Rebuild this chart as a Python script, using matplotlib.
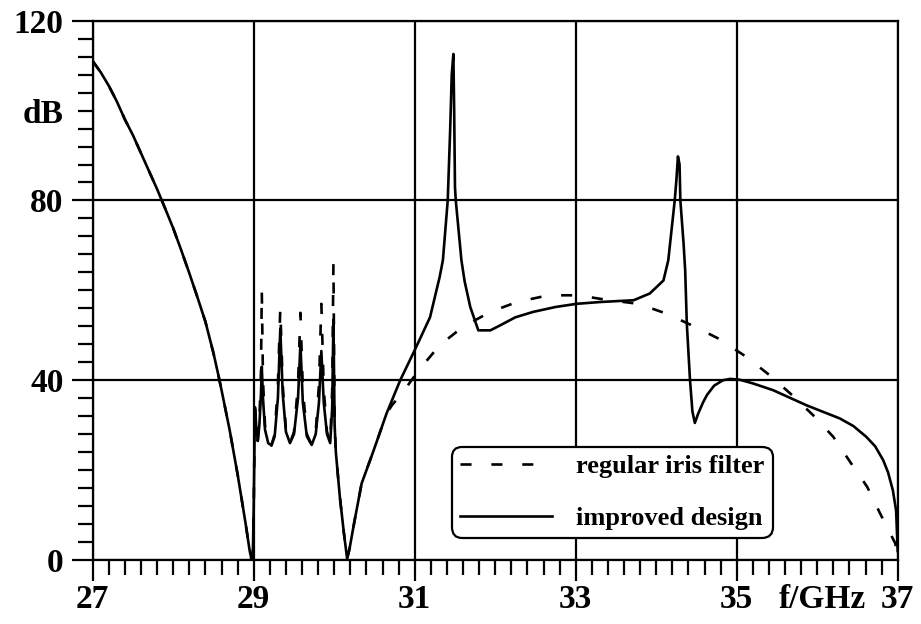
import matplotlib.pyplot as plt
from matplotlib.ticker import MultipleLocator

# attenuation curves: frequency in GHz, level in dB
f_regular = [27.0, 27.1, 27.2, 27.3, 27.4, 27.5, 27.6, 27.7, 27.8, 27.9,
             28.0, 28.1, 28.2, 28.3, 28.4, 28.5, 28.56, 28.6, 28.7, 28.8,
             28.9, 28.95, 28.97, 28.99, 29.0, 29.015,
             29.03, 29.05, 29.07, 29.09, 29.1, 29.115, 29.14, 29.18, 29.22, 29.26,
             29.3, 29.33, 29.36, 29.4, 29.45, 29.5, 29.55, 29.58, 29.61, 29.66,
             29.72, 29.77, 29.81, 29.84, 29.87, 29.91, 29.95, 29.975, 29.99, 30.005,
             30.02, 30.07, 30.12, 30.16, 30.19, 30.25, 30.34, 30.49, 30.65, 30.72,
             30.86, 31.04, 31.31, 31.6, 31.94, 32.27, 32.66, 33.03, 33.38, 33.78,
             34.13, 34.48, 34.77, 35.12, 35.41, 35.7, 35.95, 36.2, 36.41, 36.62,
             36.78, 36.97, 37.0]
db_regular = [111, 108.5, 105.5, 102, 98, 94.5, 90.5, 86.5, 82.5, 78.2,
              73.8, 68.9, 63.8, 58.5, 53, 46, 41.2, 37.8, 29, 19,
              8, 2, 0.3, 2, 12, 34,
              30, 26.5, 31, 42, 60, 40, 30, 26, 25.5, 28,
              39, 56, 39, 29, 26, 28.5, 39, 55, 38, 28,
              25.6, 28.5, 39, 57, 38, 28.5, 26, 38, 66, 30,
              24, 14, 6, 0.3, 2.5, 8.5, 17, 24.4, 32.6, 34.5,
              37.5, 42, 47.8, 51.9, 55.2, 57.4, 58.9, 58.9, 57.9, 57,
              54.8, 51.9, 49.3, 45.2, 41.1, 36.5, 32.2, 27.4, 21.8, 16.3,
              10.4, 3.7, 1]

f_improved = [27.0, 27.1, 27.2, 27.3, 27.4, 27.5, 27.6, 27.7, 27.8, 27.9,
              28.0, 28.1, 28.2, 28.3, 28.4, 28.5, 28.56, 28.6, 28.7, 28.8,
              28.9, 28.95, 28.97, 28.99, 29.0, 29.015,
              29.03, 29.05, 29.07, 29.09, 29.1, 29.115, 29.14, 29.18, 29.22, 29.26,
              29.3, 29.33, 29.36, 29.4, 29.45, 29.5, 29.55, 29.58, 29.61, 29.66,
              29.72, 29.77, 29.81, 29.84, 29.87, 29.91, 29.95, 29.975, 29.99, 30.005,
              30.02, 30.07, 30.12, 30.16, 30.19, 30.25, 30.34, 30.49, 30.65, 30.82,
              31.0, 31.19, 31.31, 31.35, 31.41, 31.44, 31.46, 31.48, 31.49, 31.5,
              31.51, 31.58, 31.62, 31.69, 31.79, 31.94, 32.06, 32.25, 32.47, 32.75,
              33.01, 33.3, 33.72, 33.92, 34.09, 34.15, 34.23, 34.25, 34.27, 34.29,
              34.3, 34.34, 34.36, 34.38, 34.42, 34.45, 34.48, 34.52, 34.58, 34.63,
              34.72, 34.83, 34.92, 35.04, 35.2, 35.45, 35.87, 36.28, 36.45, 36.61,
              36.72, 36.82, 36.88, 36.94, 36.98, 37.0]
db_improved = [111, 108.5, 105.5, 102, 98, 94.5, 90.5, 86.5, 82.5, 78.2,
               73.8, 68.9, 63.8, 58.5, 53, 46, 41.2, 37.8, 29, 19,
               8, 2, 0.3, 2, 12, 34,
               30, 26.5, 30, 37, 43, 36, 29, 26, 25.5, 27.5,
               36, 51.5, 37, 28.5, 26, 28, 36, 48, 35, 27.5,
               25.6, 28, 35, 46.5, 35, 28, 26, 34, 53.5, 30,
               24, 14, 6, 0.3, 2.5, 8.5, 17, 24.4, 32.6, 40,
               46.7, 54, 63, 66.7, 80, 95.6, 108, 112.6, 100, 83,
               80, 66.7, 62, 56.3, 51.1, 51.1, 52.2, 54, 55.2, 56.3,
               57, 57.4, 57.8, 59.3, 62.2, 66.7, 80, 84.4, 89.8, 88,
               80, 70.4, 64.4, 52.6, 40, 33, 30.5, 32.5, 35, 36.7,
               38.8, 40, 40.3, 40.1, 39.3, 37.8, 34.4, 31.5, 29.8, 27.4,
               25.3, 22.2, 19.5, 15.5, 11, 2]

x_ticks = [27, 29, 31, 33, 35, 37]
y_ticks = [0, 40, 80, 120]

plt.rcParams['font.family'] = ['Liberation Serif', 'DejaVu Serif']
plt.rcParams['font.weight'] = 'bold'

fig = plt.figure(figsize=(9.21, 6.24), dpi=100)
ax = fig.add_axes([0.1007, 0.1026, 0.8740, 0.8642])

ax.plot(f_regular, db_regular, color='black', lw=1.9, ls=(0, (4.2, 7.5)),
        label='regular iris filter')
ax.plot(f_improved, db_improved, color='black', lw=1.9, label='improved design')

ax.set_xlim(27, 37)
ax.set_ylim(0, 120)
ax.set_xticks(x_ticks)
ax.set_yticks(y_ticks)
ax.xaxis.set_minor_locator(MultipleLocator(0.2))
ax.yaxis.set_minor_locator(MultipleLocator(4))
ax.tick_params(which='major', direction='out', length=15, width=1.6, labelsize=24)
ax.tick_params(axis='x', which='major', pad=2)
ax.tick_params(axis='y', which='major', pad=6)
ax.tick_params(which='minor', direction='out', length=10.5, width=1.6)

ax.grid(True, which='major', color='black', lw=1.6)
ax.set_axisbelow(True)
for side in ax.spines.values():
    side.set_linewidth(1.6)

ax.annotate('dB', xy=(0, 100), xycoords=('axes fraction', 'data'),
            xytext=(-21, 0), textcoords='offset points',
            ha='right', va='center_baseline', fontsize=24)
ax.annotate('f/GHz', xy=(36.06, 0), xycoords=('data', 'axes fraction'),
            xytext=(0, -17), textcoords='offset points',
            ha='center', va='top', fontsize=24)

leg = ax.legend(loc='lower left', bbox_to_anchor=(0.446, 0.041), borderaxespad=0,
                prop={'size': 19, 'weight': 'bold'}, handlelength=3.48,
                handletextpad=0.94, borderpad=0.3, labelspacing=1.08,
                fancybox=True, framealpha=1, edgecolor='black')
leg.get_frame().set_linewidth(1.6)
leg.get_frame().set_boxstyle('round', pad=0, rounding_size=0.4)

fig.savefig('out.png', dpi=100)
